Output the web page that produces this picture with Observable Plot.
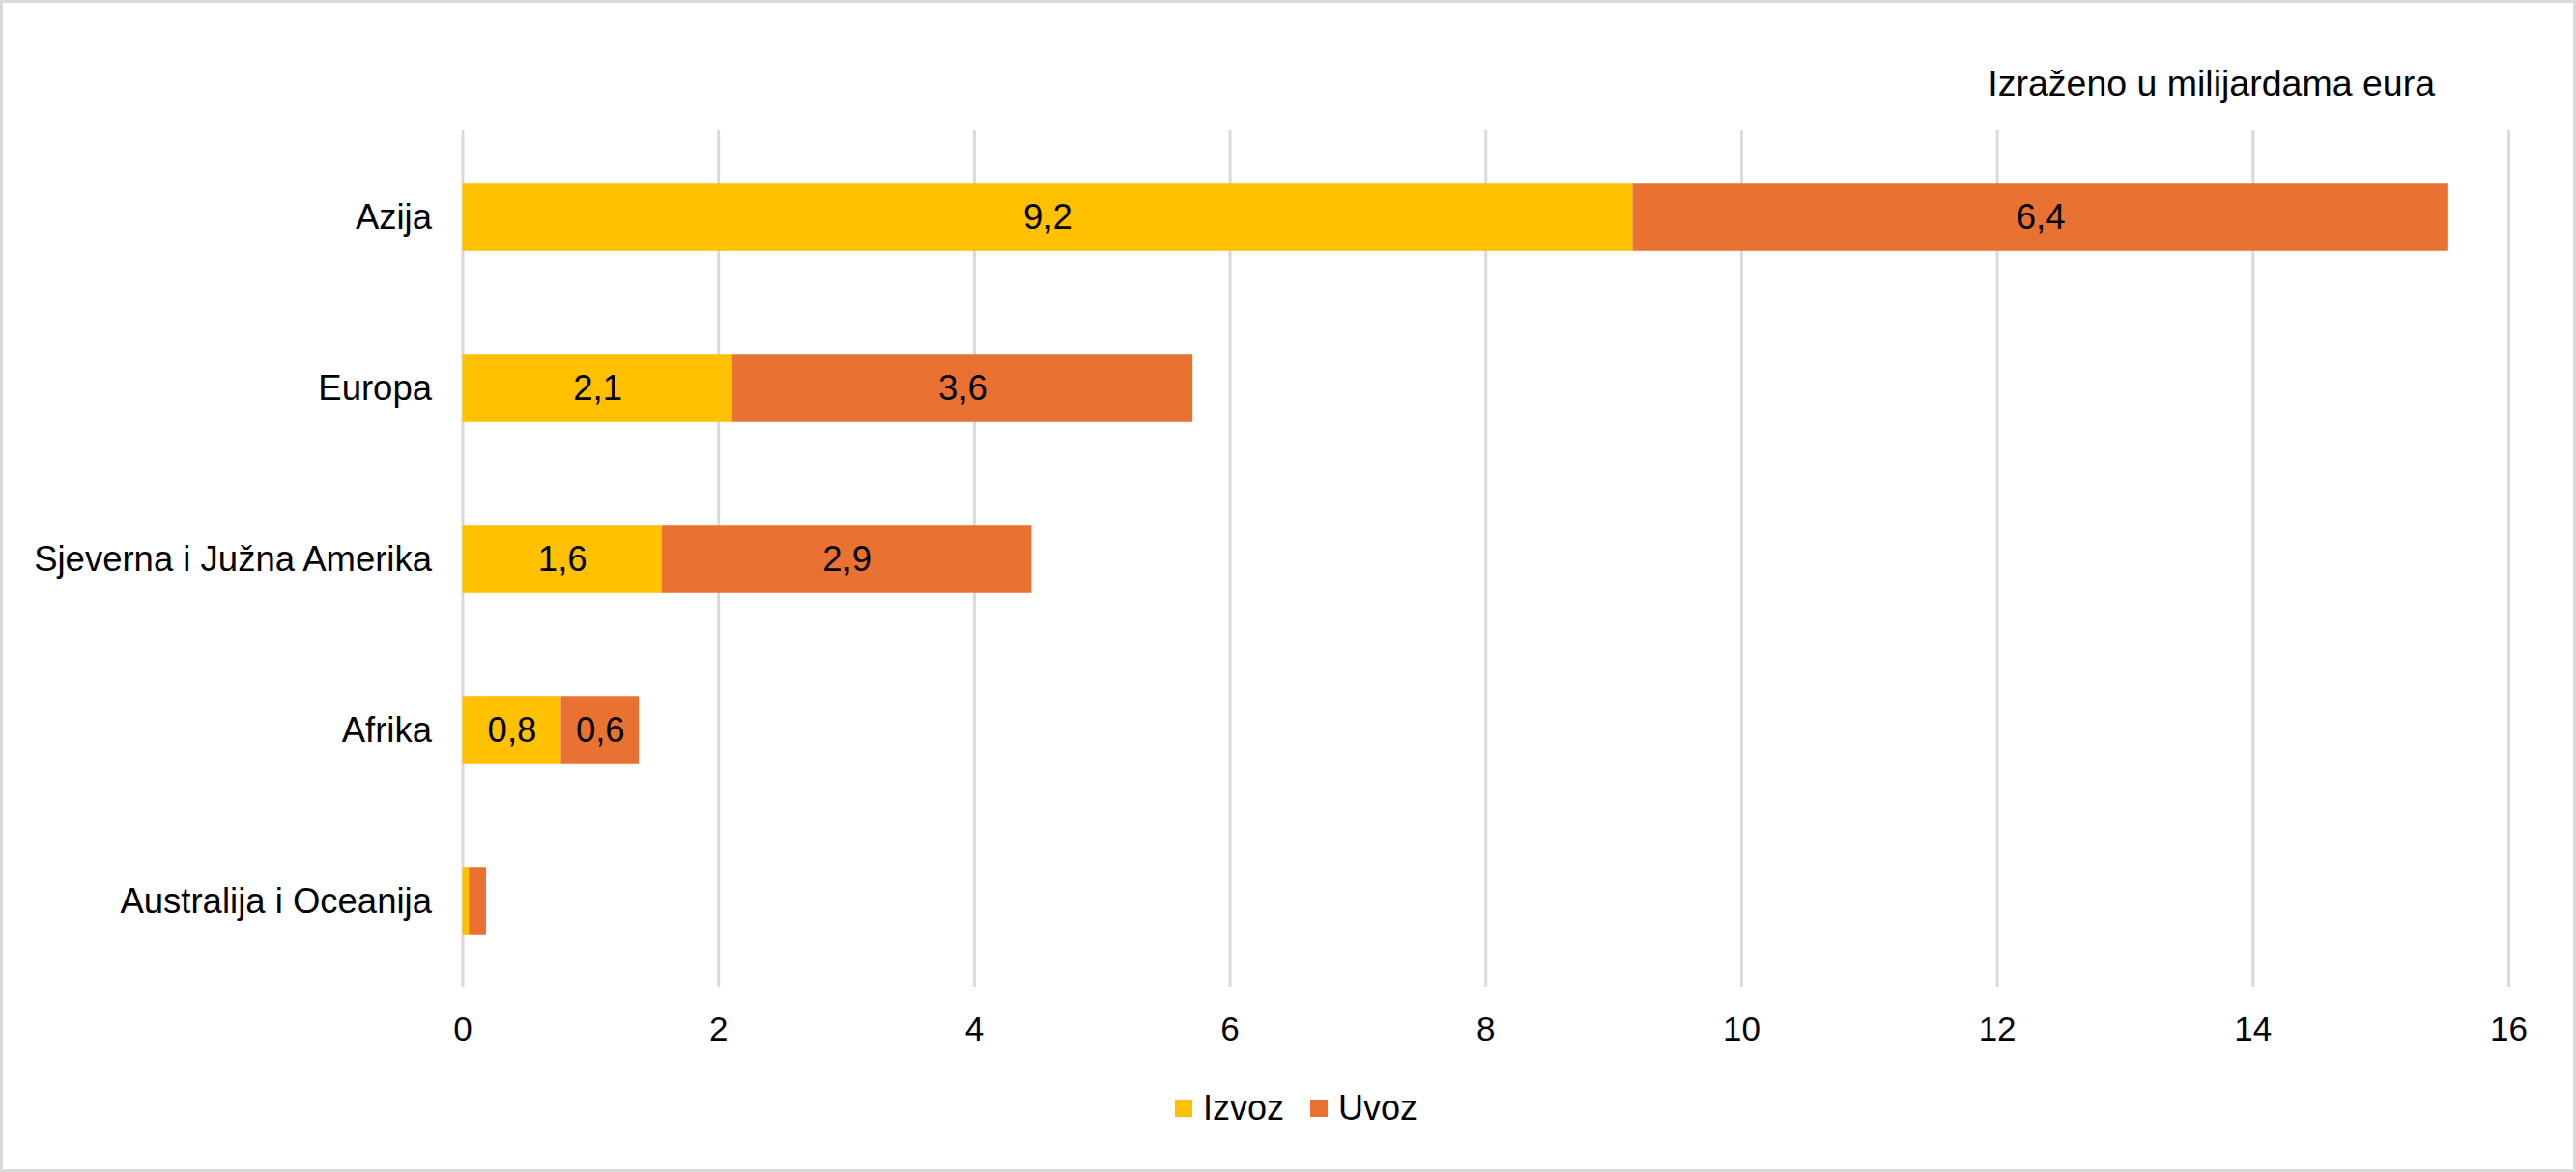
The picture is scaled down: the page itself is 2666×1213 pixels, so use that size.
<!DOCTYPE html>
<html>
<head>
<meta charset="utf-8">
<script src="https://cdn.jsdelivr.net/npm/d3@7"></script>
<script src="https://cdn.jsdelivr.net/npm/@observablehq/plot@0.6"></script>
<style>
  html, body { margin: 0; padding: 0; background: #fff; }
  #wrap { position: relative; width: 2666px; height: 1213px; overflow: hidden; font-family: "Liberation Sans", Arial, sans-serif; color: #000; }
  #frame { position: absolute; left: 0; top: 0; width: 2666px; height: 1213px; box-sizing: border-box; border: 3px solid #d9d9d9; pointer-events: none; }
  #chart { position: absolute; left: 0; top: 0; }
  #unit { position: absolute; right: 146px; top: 68px; font-size: 37.5px; line-height: 37.5px; white-space: nowrap; }
  #legend { position: absolute; left: 1216px; top: 1129px; font-size: 36px; line-height: 36px; display: flex; align-items: center; white-space: nowrap; }
  .sw { display: inline-block; width: 18px; height: 18px; margin-right: 11px; }
  .item { display: flex; align-items: center; margin-right: 27px; }
</style>
</head>
<body>
<div id="wrap">
  <div id="chart"></div>
  <div id="unit"></div>
  <div id="legend"></div>
  <div id="frame"></div>
</div>
<script>
const regions = ["Azija", "Europa", "Sjeverna i Južna Amerika", "Afrika", "Australija i Oceanija"];
const izvoz = [9.15, 2.11, 1.56, 0.77, 0.05];
const uvoz = [6.38, 3.6, 2.89, 0.61, 0.135];
const izvozLabels = ["9,2", "2,1", "1,6", "0,8", ""];
const uvozLabels = ["6,4", "3,6", "2,9", "0,6", ""];
const seriesNames = ["Izvoz", "Uvoz"];
const seriesColors = ["#FFC000", "#E97132"];
const xTicks = [0, 2, 4, 6, 8, 10, 12, 14, 16];
const unitText = "Izraženo u milijardama eura";

const data = [];
regions.forEach((r, i) => {
  data.push({region: r, type: seriesNames[0], value: izvoz[i], label: izvozLabels[i]});
  data.push({region: r, type: seriesNames[1], value: uvoz[i], label: uvozLabels[i]});
});

const W = 2666, H = 1100;
const plot = Plot.plot({
  width: W,
  height: H,
  marginLeft: 478.5,
  marginRight: 70,
  marginTop: 135,
  marginBottom: 78,
  style: { fontFamily: '"Liberation Sans", Arial, sans-serif', fontSize: "35px", color: "#000", background: "transparent" },
  x: { domain: [0, 16], label: null },
  y: { domain: regions, padding: 0, label: null },
  color: { domain: seriesNames, range: seriesColors },
  marks: [
    Plot.gridX(xTicks, { stroke: "#d9d9d9", strokeOpacity: 1, strokeWidth: 3 }),
    Plot.axisX({ ticks: xTicks, tickSize: 0, tickPadding: 30, tickFormat: d => String(d), fontSize: 35, label: null }),
    Plot.axisY({ tickSize: 0, tickPadding: 32, fontSize: 36.5, label: null }),
    Plot.barX(data, Plot.stackX({ x: "value", y: "region", fill: "type", z: "type", insetTop: 53.25, insetBottom: 53.25 })),
    Plot.text(data, Plot.stackX({ x: "value", y: "region", z: "type", text: "label", fill: "#000", fontSize: 36.5 }))
  ]
});
document.getElementById("chart").appendChild(plot);
document.getElementById("unit").textContent = unitText;

const legend = document.getElementById("legend");
seriesNames.forEach((s, i) => {
  const item = document.createElement("div");
  item.className = "item";
  const sw = document.createElement("span");
  sw.className = "sw";
  sw.style.background = seriesColors[i];
  const t = document.createElement("span");
  t.textContent = s;
  item.appendChild(sw);
  item.appendChild(t);
  legend.appendChild(item);
});
</script>
</body>
</html>
